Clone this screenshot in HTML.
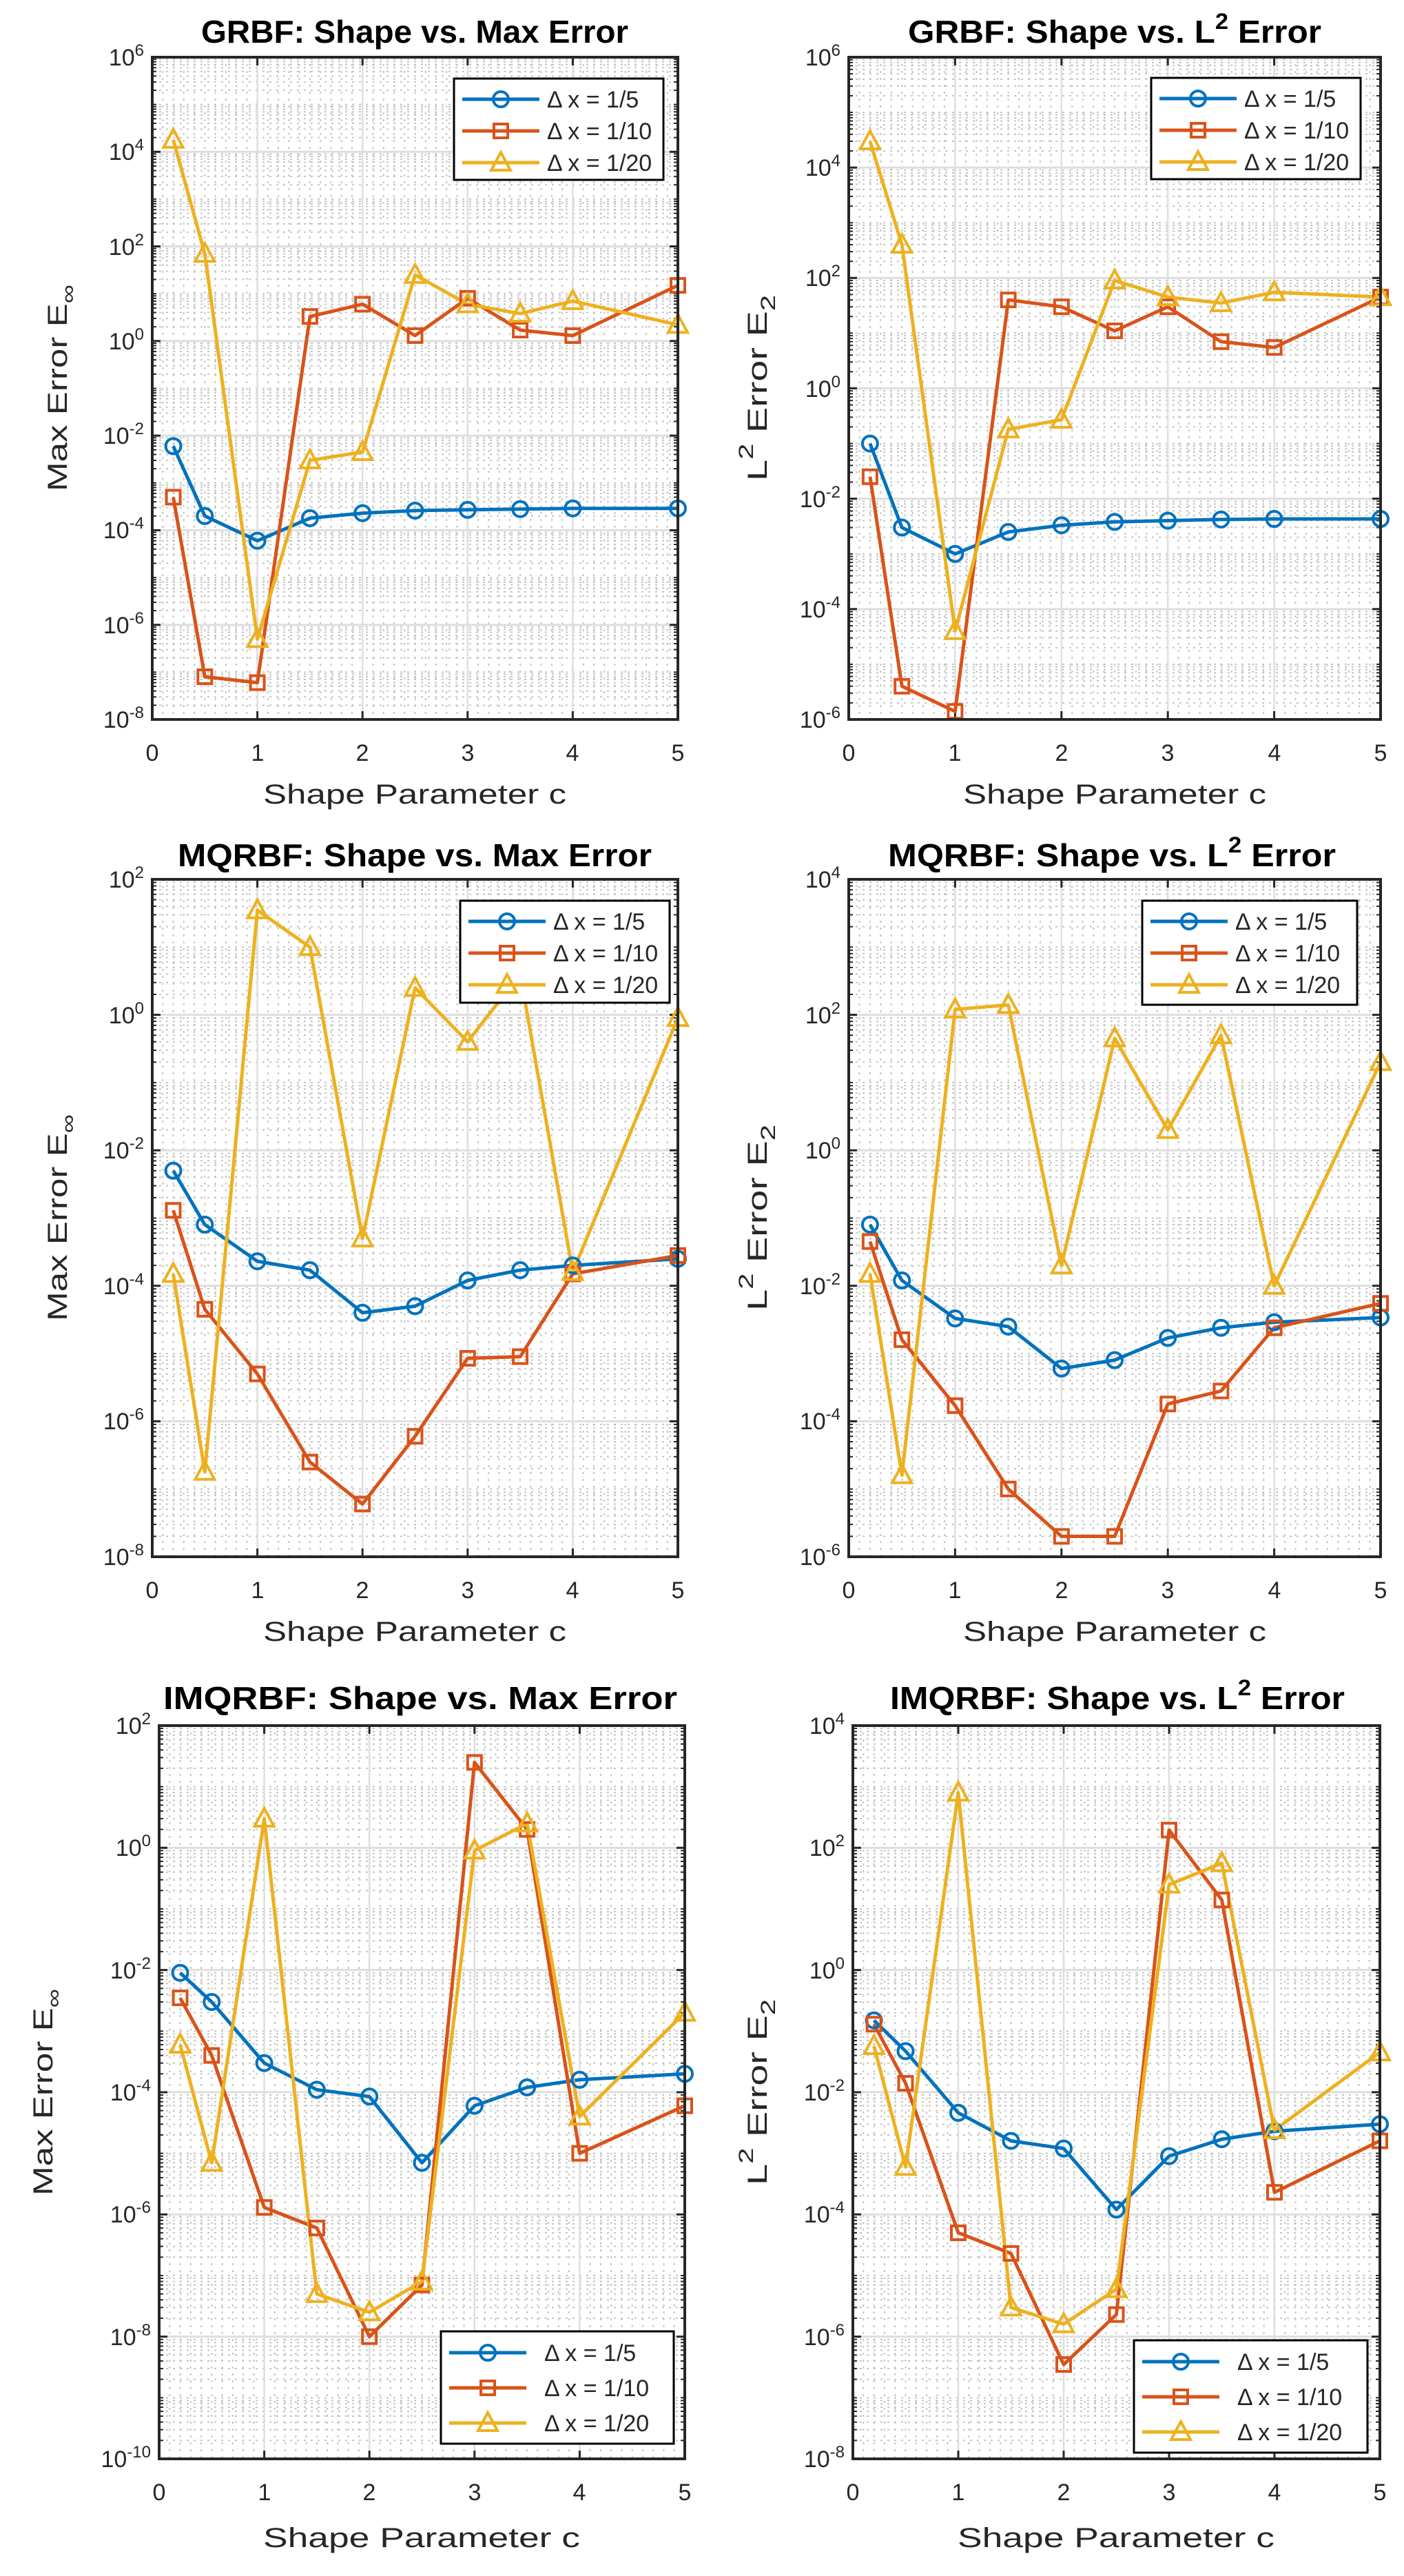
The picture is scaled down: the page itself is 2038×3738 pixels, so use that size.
<!DOCTYPE html>
<html><head><meta charset="utf-8">
<style>
html,body{margin:0;padding:0;background:#fff;}
svg{display:block;}
text{font-family:"Liberation Sans",Arial,sans-serif;fill:#262626;}
.t{font-weight:bold;font-size:46px;fill:#000;}
.tk{font-size:34px;}
.xl{font-size:40px;}
.lg{font-size:34px;fill:#000;}
</style></head>
<body>
<svg id="s" xmlns="http://www.w3.org/2000/svg" width="2038" height="3738" viewBox="0 0 2038 3738">
<rect width="2038" height="3738" fill="#fff"/>
<g id="plots"></g>
<!-- Titles -->
<text class="t" x="602" y="62" text-anchor="middle" textLength="620" lengthAdjust="spacingAndGlyphs">GRBF: Shape vs. Max Error</text>
<text class="t" x="1618" y="62" text-anchor="middle" textLength="600" lengthAdjust="spacingAndGlyphs">GRBF: Shape vs. L<tspan dy="-20" font-size="32">2</tspan><tspan dy="20"> Error</tspan></text>
<text class="t" x="602" y="1257" text-anchor="middle" textLength="688" lengthAdjust="spacingAndGlyphs">MQRBF: Shape vs. Max Error</text>
<text class="t" x="1614" y="1257" text-anchor="middle" textLength="650" lengthAdjust="spacingAndGlyphs">MQRBF: Shape vs. L<tspan dy="-20" font-size="32">2</tspan><tspan dy="20"> Error</tspan></text>
<text class="t" x="610" y="2480" text-anchor="middle" textLength="746" lengthAdjust="spacingAndGlyphs">IMQRBF: Shape vs. Max Error</text>
<text class="t" x="1622" y="2480" text-anchor="middle" textLength="660" lengthAdjust="spacingAndGlyphs">IMQRBF: Shape vs. L<tspan dy="-20" font-size="32">2</tspan><tspan dy="20"> Error</tspan></text>

<!-- X labels -->
<text class="xl" x="602" y="1166" text-anchor="middle" textLength="440" lengthAdjust="spacingAndGlyphs">Shape Parameter c</text>
<text class="xl" x="1618" y="1166" text-anchor="middle" textLength="440" lengthAdjust="spacingAndGlyphs">Shape Parameter c</text>
<text class="xl" x="602" y="2381" text-anchor="middle" textLength="440" lengthAdjust="spacingAndGlyphs">Shape Parameter c</text>
<text class="xl" x="1618" y="2381" text-anchor="middle" textLength="440" lengthAdjust="spacingAndGlyphs">Shape Parameter c</text>
<text class="xl" x="612" y="3696" text-anchor="middle" textLength="460" lengthAdjust="spacingAndGlyphs">Shape Parameter c</text>
<text class="xl" x="1620" y="3696" text-anchor="middle" textLength="460" lengthAdjust="spacingAndGlyphs">Shape Parameter c</text>

<!-- Y labels -->
<text class="xl" transform="translate(97,563) rotate(-90)" text-anchor="middle" textLength="300" lengthAdjust="spacingAndGlyphs">Max Error E<tspan dy="12" font-size="30">∞</tspan></text>
<text class="xl" transform="translate(1113,563) rotate(-90)" text-anchor="middle" textLength="270" lengthAdjust="spacingAndGlyphs">L<tspan dy="-20" font-size="30">2</tspan><tspan dy="20"> Error E</tspan><tspan dy="12" font-size="30">2</tspan></text>
<text class="xl" transform="translate(97,1767) rotate(-90)" text-anchor="middle" textLength="300" lengthAdjust="spacingAndGlyphs">Max Error E<tspan dy="12" font-size="30">∞</tspan></text>
<text class="xl" transform="translate(1113,1767) rotate(-90)" text-anchor="middle" textLength="270" lengthAdjust="spacingAndGlyphs">L<tspan dy="-20" font-size="30">2</tspan><tspan dy="20"> Error E</tspan><tspan dy="12" font-size="30">2</tspan></text>
<text class="xl" transform="translate(76,3036) rotate(-90)" text-anchor="middle" textLength="300" lengthAdjust="spacingAndGlyphs">Max Error E<tspan dy="12" font-size="30">∞</tspan></text>
<text class="xl" transform="translate(1113,3036) rotate(-90)" text-anchor="middle" textLength="270" lengthAdjust="spacingAndGlyphs">L<tspan dy="-20" font-size="30">2</tspan><tspan dy="20"> Error E</tspan><tspan dy="12" font-size="30">2</tspan></text>

<!-- Y tick labels P1 -->
<g class="tk" text-anchor="end">
<text x="209" y="95">10<tspan dy="-14" font-size="24">6</tspan></text>
<text x="209" y="232">10<tspan dy="-14" font-size="24">4</tspan></text>
<text x="209" y="370">10<tspan dy="-14" font-size="24">2</tspan></text>
<text x="209" y="507">10<tspan dy="-14" font-size="24">0</tspan></text>
<text x="209" y="644">10<tspan dy="-14" font-size="24">-2</tspan></text>
<text x="209" y="781">10<tspan dy="-14" font-size="24">-4</tspan></text>
<text x="209" y="919">10<tspan dy="-14" font-size="24">-6</tspan></text>
<text x="209" y="1056">10<tspan dy="-14" font-size="24">-8</tspan></text>
<!-- P2 -->
<text x="1220" y="95">10<tspan dy="-14" font-size="24">6</tspan></text>
<text x="1220" y="255">10<tspan dy="-14" font-size="24">4</tspan></text>
<text x="1220" y="415">10<tspan dy="-14" font-size="24">2</tspan></text>
<text x="1220" y="576">10<tspan dy="-14" font-size="24">0</tspan></text>
<text x="1220" y="736">10<tspan dy="-14" font-size="24">-2</tspan></text>
<text x="1220" y="896">10<tspan dy="-14" font-size="24">-4</tspan></text>
<text x="1220" y="1056">10<tspan dy="-14" font-size="24">-6</tspan></text>
<!-- P3 -->
<text x="209" y="1288">10<tspan dy="-14" font-size="24">2</tspan></text>
<text x="209" y="1485">10<tspan dy="-14" font-size="24">0</tspan></text>
<text x="209" y="1681">10<tspan dy="-14" font-size="24">-2</tspan></text>
<text x="209" y="1878">10<tspan dy="-14" font-size="24">-4</tspan></text>
<text x="209" y="2074">10<tspan dy="-14" font-size="24">-6</tspan></text>
<text x="209" y="2271">10<tspan dy="-14" font-size="24">-8</tspan></text>
<!-- P4 -->
<text x="1220" y="1288">10<tspan dy="-14" font-size="24">4</tspan></text>
<text x="1220" y="1485">10<tspan dy="-14" font-size="24">2</tspan></text>
<text x="1220" y="1681">10<tspan dy="-14" font-size="24">0</tspan></text>
<text x="1220" y="1878">10<tspan dy="-14" font-size="24">-2</tspan></text>
<text x="1220" y="2074">10<tspan dy="-14" font-size="24">-4</tspan></text>
<text x="1220" y="2271">10<tspan dy="-14" font-size="24">-6</tspan></text>
<!-- P5 -->
<text x="219" y="2516">10<tspan dy="-14" font-size="24">2</tspan></text>
<text x="219" y="2693">10<tspan dy="-14" font-size="24">0</tspan></text>
<text x="219" y="2871">10<tspan dy="-14" font-size="24">-2</tspan></text>
<text x="219" y="3048">10<tspan dy="-14" font-size="24">-4</tspan></text>
<text x="219" y="3225">10<tspan dy="-14" font-size="24">-6</tspan></text>
<text x="219" y="3403">10<tspan dy="-14" font-size="24">-8</tspan></text>
<text x="219" y="3580">10<tspan dy="-14" font-size="24">-10</tspan></text>
<!-- P6 -->
<text x="1226" y="2516">10<tspan dy="-14" font-size="24">4</tspan></text>
<text x="1226" y="2693">10<tspan dy="-14" font-size="24">2</tspan></text>
<text x="1226" y="2871">10<tspan dy="-14" font-size="24">0</tspan></text>
<text x="1226" y="3048">10<tspan dy="-14" font-size="24">-2</tspan></text>
<text x="1226" y="3225">10<tspan dy="-14" font-size="24">-4</tspan></text>
<text x="1226" y="3403">10<tspan dy="-14" font-size="24">-6</tspan></text>
<text x="1226" y="3580">10<tspan dy="-14" font-size="24">-8</tspan></text>
</g>

<!-- X tick labels -->
<g class="tk" text-anchor="middle">
<text x="221" y="1104">0</text><text x="374" y="1104">1</text><text x="526" y="1104">2</text><text x="679" y="1104">3</text><text x="831" y="1104">4</text><text x="984" y="1104">5</text>
<text x="1232" y="1104">0</text><text x="1386" y="1104">1</text><text x="1541" y="1104">2</text><text x="1695" y="1104">3</text><text x="1850" y="1104">4</text><text x="2004" y="1104">5</text>
<text x="221" y="2319">0</text><text x="374" y="2319">1</text><text x="526" y="2319">2</text><text x="679" y="2319">3</text><text x="831" y="2319">4</text><text x="984" y="2319">5</text>
<text x="1232" y="2319">0</text><text x="1386" y="2319">1</text><text x="1541" y="2319">2</text><text x="1695" y="2319">3</text><text x="1850" y="2319">4</text><text x="2004" y="2319">5</text>
<text x="231" y="3628">0</text><text x="384" y="3628">1</text><text x="536" y="3628">2</text><text x="689" y="3628">3</text><text x="841" y="3628">4</text><text x="994" y="3628">5</text>
<text x="1238" y="3628">0</text><text x="1391" y="3628">1</text><text x="1544" y="3628">2</text><text x="1697" y="3628">3</text><text x="1850" y="3628">4</text><text x="2003" y="3628">5</text>
</g>

<g id="legends"></g>
<g class="lg">
<text x="794" y="156">Δ x = 1/5</text><text x="794" y="202">Δ x = 1/10</text><text x="794" y="248">Δ x = 1/20</text>
<text x="1806" y="155">Δ x = 1/5</text><text x="1806" y="201">Δ x = 1/10</text><text x="1806" y="247">Δ x = 1/20</text>
<text x="803" y="1349">Δ x = 1/5</text><text x="803" y="1395">Δ x = 1/10</text><text x="803" y="1441">Δ x = 1/20</text>
<text x="1793" y="1349">Δ x = 1/5</text><text x="1793" y="1395">Δ x = 1/10</text><text x="1793" y="1441">Δ x = 1/20</text>
<text x="790" y="3426">Δ x = 1/5</text><text x="790" y="3477">Δ x = 1/10</text><text x="790" y="3528">Δ x = 1/20</text>
<text x="1796" y="3439">Δ x = 1/5</text><text x="1796" y="3490">Δ x = 1/10</text><text x="1796" y="3541">Δ x = 1/20</text>
</g>
</svg>
<script>
(function(){
var NS='http://www.w3.org/2000/svg';
var G=document.getElementById('plots'), LG=document.getElementById('legends');
function el(t,a,p){var e=document.createElementNS(NS,t);for(var k in a)e.setAttribute(k,a[k]);(p||G).appendChild(e);return e;}
var C=['#0072BD','#D95319','#EDB120'];
var X=[0.2,0.5,1,1.5,2,2.5,3,3.5,4,5];
var P=[
{x0:221,x1:984,y0:83,y1:1044,top:6,bot:-8,step:2,
 d:[[6e-3,2e-4,6e-5,1.8e-4,2.3e-4,2.6e-4,2.7e-4,2.8e-4,2.9e-4,2.9e-4],
    [5e-4,8e-8,6e-8,3.3,6,1.3,8,1.7,1.3,15],
    [1.8e4,70,5e-7,3e-3,4.5e-3,25,6,3.8,7,2.2]],
 L:[659,114,304,147,30,46]},
{x0:1232,x1:2004,y0:83,y1:1044,top:6,bot:-6,step:2,
 d:[[0.1,3e-3,1e-3,2.5e-3,3.3e-3,3.8e-3,4e-3,4.2e-3,4.3e-3,4.3e-3],
    [2.5e-2,4e-6,1.4e-6,40,30,11,30,7,5.5,45],
    [3e4,400,4e-5,0.18,0.27,90,45,35,55,45]],
 L:[1671,113,304,147,30,46]},
{x0:221,x1:984,y0:1276,y1:2259,top:2,bot:-8,step:2,
 d:[[5e-3,8e-4,2.3e-4,1.7e-4,4e-5,5e-5,1.2e-4,1.7e-4,2e-4,2.5e-4],
    [1.3e-3,4.5e-5,5e-6,2.5e-7,6e-8,6e-7,8.5e-6,9e-6,1.5e-4,2.8e-4],
    [1.5e-4,1.8e-7,35,10,5e-4,2.5,0.4,4,1.6e-4,0.9]],
 L:[668,1307,304,148,30,46]},
{x0:1232,x1:2004,y0:1276,y1:2259,top:4,bot:-6,step:2,
 d:[[8e-2,1.2e-2,3.3e-3,2.5e-3,6e-4,8e-4,1.7e-3,2.4e-3,2.9e-3,3.4e-3],
    [4.5e-2,1.6e-3,1.7e-4,1e-5,2e-6,2e-6,1.8e-4,2.8e-4,2.4e-3,5.5e-3],
    [1.5e-2,1.6e-5,120,140,2e-2,45,2,50,1e-2,20]],
 L:[1658,1307,312,151,30,46]},
{x0:231,x1:994,y0:2504,y1:3568,top:2,bot:-10,step:2,
 d:[[9e-3,3e-3,3e-4,1.1e-4,8.5e-5,7e-6,6e-5,1.2e-4,1.6e-4,2e-4],
    [3.5e-3,4e-4,1.3e-6,6e-7,1e-8,7e-8,25,2,1e-5,6e-5],
    [6e-4,7e-6,3,5e-8,2.5e-8,8e-8,0.9,2.5,4e-5,2e-3]],
 L:[640,3383,338,163,31,51]},
{x0:1238,x1:2003,y0:2504,y1:3568,top:4,bot:-8,step:2,
 d:[[0.15,0.047,4.6e-3,1.6e-3,1.2e-3,1.2e-4,9e-4,1.7e-3,2.3e-3,3e-3],
    [0.13,1.4e-2,5e-5,2.3e-5,3.5e-7,2.3e-6,195,14,2.3e-4,1.6e-3],
    [0.057,6e-4,800,3e-6,1.6e-6,6e-6,25,56,2.4e-3,0.045]],
 L:[1646,3396,339,163,31,51]}
];
function marker(k,x,y,par){
 var a={fill:'none',stroke:C[k],'stroke-width':4};
 if(k==0){a.cx=x;a.cy=y;a.r=11;el('circle',a,par);}
 else if(k==1){a.x=x-10;a.y=y-10;a.width=20;a.height=20;el('rect',a,par);}
 else {a.points=(x-14)+','+(y+11)+' '+(x+14)+','+(y+11)+' '+x+','+(y-15);el('polygon',a,par);}
}
P.forEach(function(p){
 var W=p.x1-p.x0,H=p.y1-p.y0,ND=p.top-p.bot;
 function xs(c){return p.x0+c*W/5;}
 function ys(lv){return p.y0+(p.top-lv)*H/ND;}
 var g=el('g',{});
 // minor vertical dotted
 for(var i=1;i<50;i++){if(i%10==0)continue;var x=xs(i/10);
  el('line',{x1:x,x2:x,y1:p.y0,y2:p.y1,stroke:'#c4c4c4','stroke-width':2,'stroke-dasharray':'3 7'},g);}
 // minor horizontal dotted
 for(var d=p.bot;d<p.top;d++){
  for(var k=1;k<=9;k++){ if(k==1 && (d-p.bot)%p.step==0) continue;
   var y=ys(d+Math.log10(k));
   el('line',{x1:p.x0,x2:p.x1,y1:y,y2:y,stroke:'#c4c4c4','stroke-width':2,'stroke-dasharray':'3 7'},g);
   el('line',{x1:p.x0,x2:p.x0+6,y1:y,y2:y,stroke:'#262626','stroke-width':2},g);
   el('line',{x1:p.x1,x2:p.x1-6,y1:y,y2:y,stroke:'#262626','stroke-width':2},g);
  }}
 // major grid
 for(var c=1;c<5;c++){var x=xs(c);el('line',{x1:x,x2:x,y1:p.y0,y2:p.y1,stroke:'#dedede','stroke-width':2.5},g);}
 for(var e=p.bot+p.step;e<p.top;e+=p.step){var y=ys(e);el('line',{x1:p.x0,x2:p.x1,y1:y,y2:y,stroke:'#dedede','stroke-width':3},g);}
 // ticks
 for(var c=0;c<=5;c++){var x=xs(c);
  el('line',{x1:x,x2:x,y1:p.y1,y2:p.y1-12,stroke:'#262626','stroke-width':3},g);
  el('line',{x1:x,x2:x,y1:p.y0,y2:p.y0+12,stroke:'#262626','stroke-width':3},g);}
 for(var e=p.bot;e<=p.top;e+=p.step){var y=ys(e);
  el('line',{x1:p.x0,x2:p.x0+12,y1:y,y2:y,stroke:'#262626','stroke-width':3},g);
  el('line',{x1:p.x1,x2:p.x1-12,y1:y,y2:y,stroke:'#262626','stroke-width':3},g);}
 // series
 p.d.forEach(function(s,k){
  var pts=s.map(function(v,i){return xs(X[i]).toFixed(1)+','+ys(Math.log10(v)).toFixed(1);}).join(' ');
  el('polyline',{points:pts,fill:'none',stroke:C[k],'stroke-width':5,'stroke-linejoin':'round'},g);
 });
 p.d.forEach(function(s,k){s.forEach(function(v,i){marker(k,xs(X[i]),ys(Math.log10(v)),g);});});
 // box
 el('rect',{x:p.x0,y:p.y0,width:W,height:H,fill:'none',stroke:'#262626','stroke-width':4},g);
 // legend
 var L=p.L;
 el('rect',{x:L[0],y:L[1],width:L[2],height:L[3],fill:'#fff',stroke:'#000','stroke-width':3},LG);
 for(var k=0;k<3;k++){var y=L[1]+L[4]+k*L[5];
  el('line',{x1:L[0]+12,x2:L[0]+124,y1:y,y2:y,stroke:C[k],'stroke-width':5},LG);
  marker(k,L[0]+68,y,LG);}
});
})();
</script>
</body></html>
